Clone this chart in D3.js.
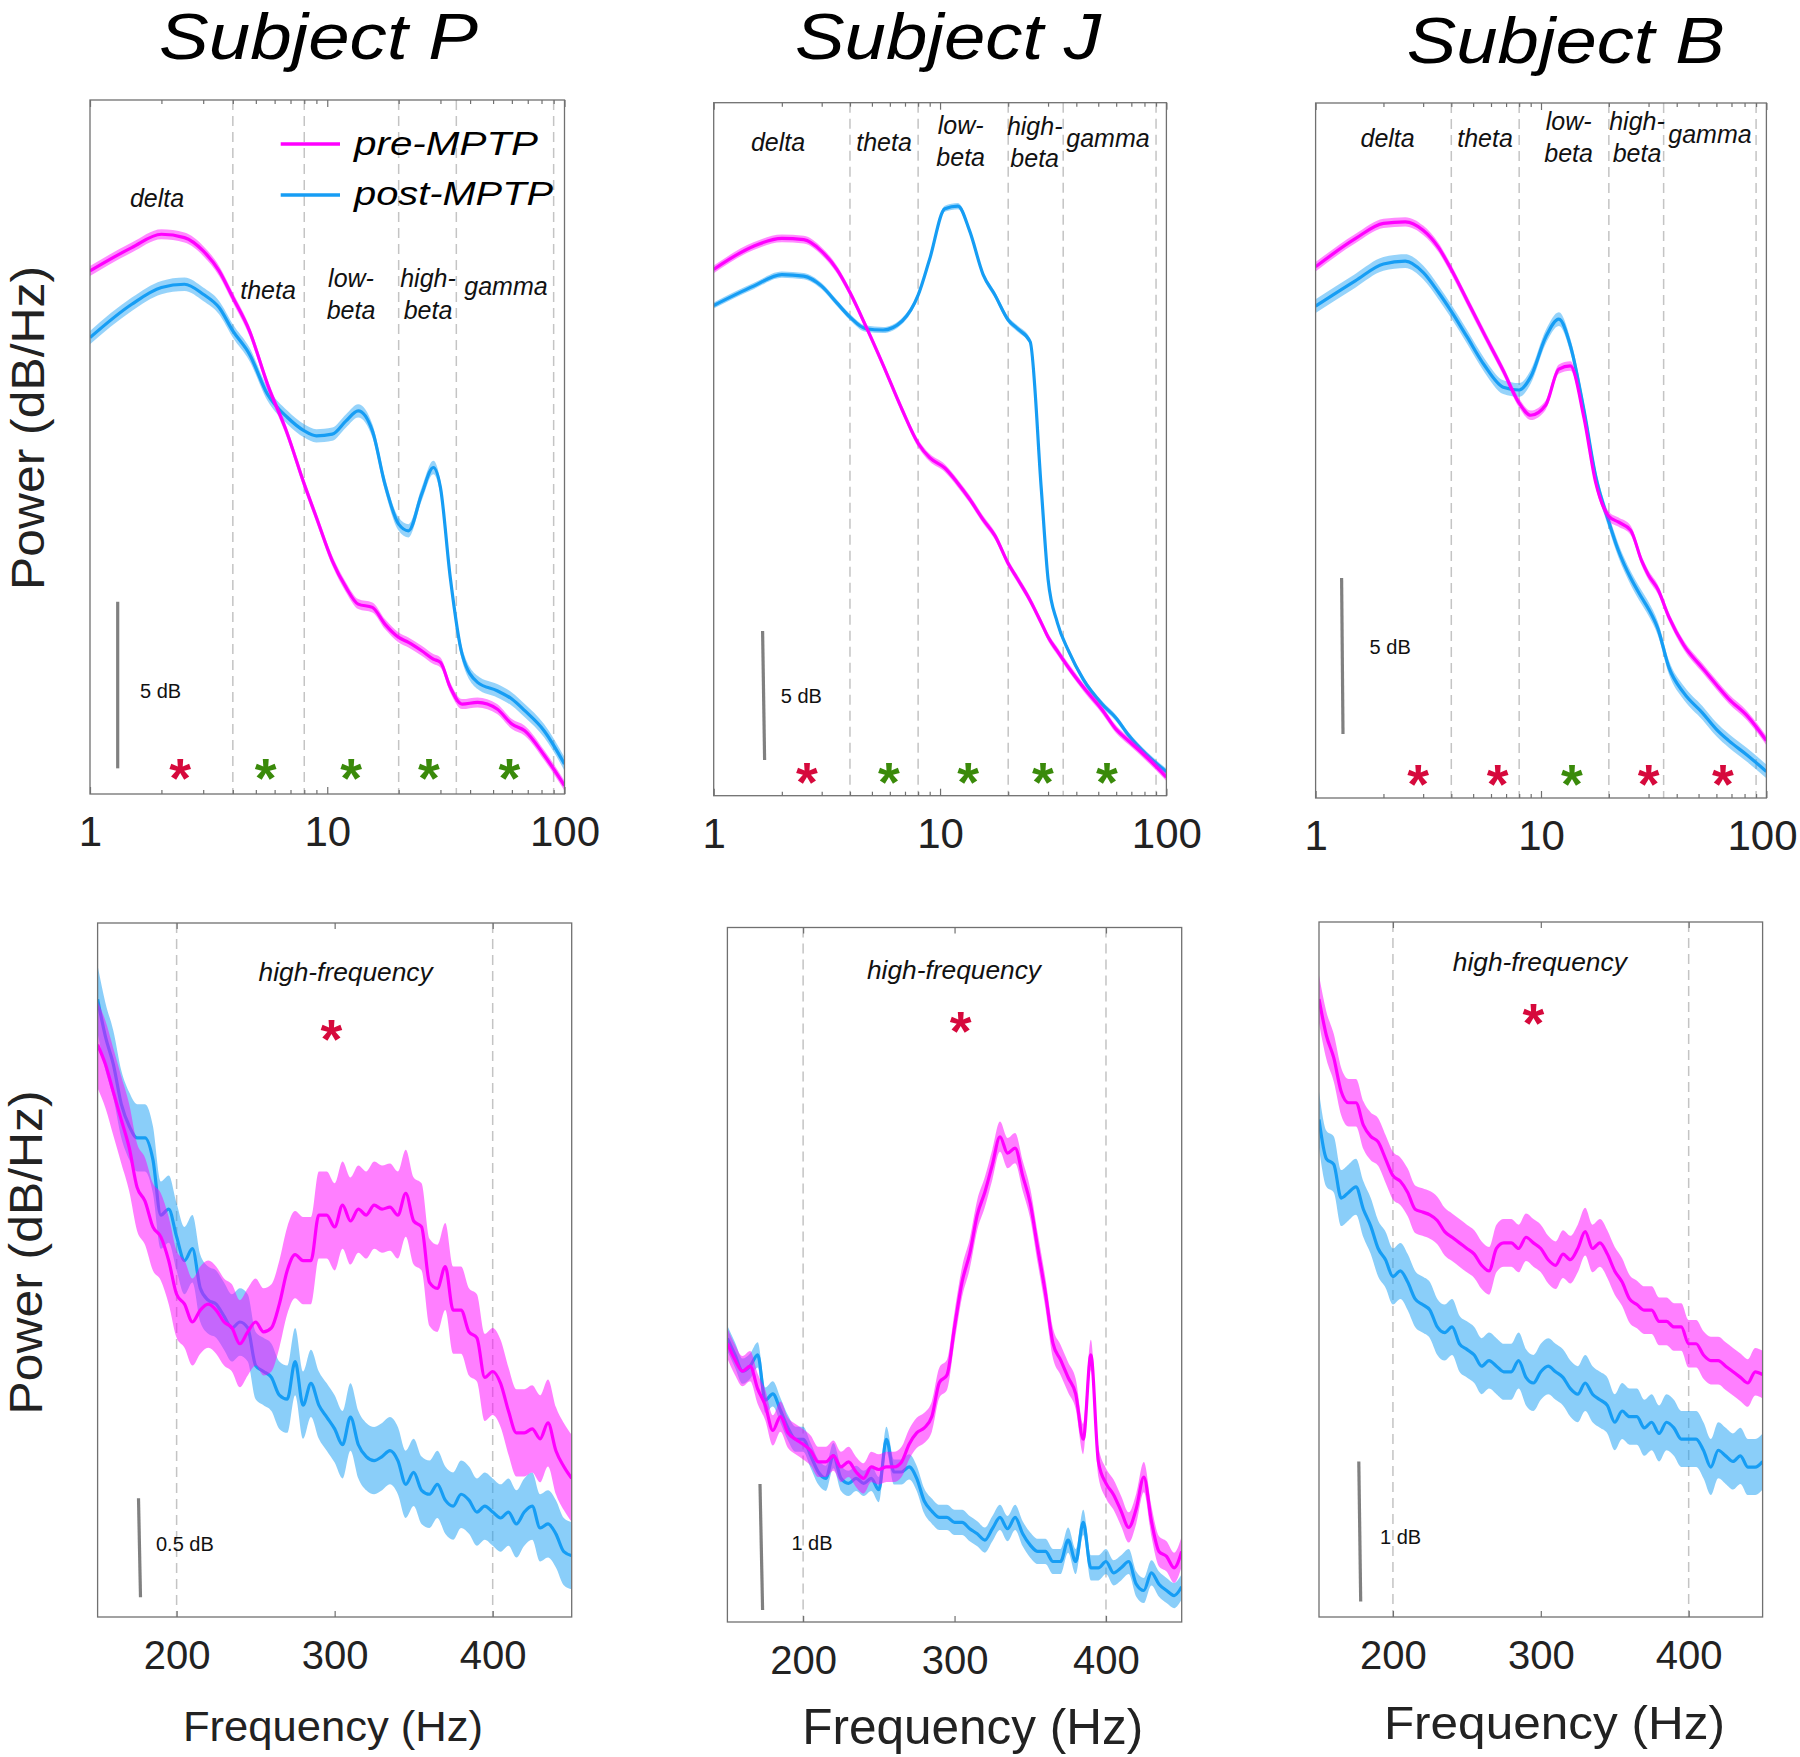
<!DOCTYPE html>
<html>
<head>
<meta charset="utf-8">
<script src="https://cdn.jsdelivr.net/npm/d3@7"></script>
<style>
  body { margin: 0; background: #fff; }
  svg { display: block; font-family: "Liberation Sans", Arial, sans-serif; }
</style>
</head>
<body>
<div id="chart"></div>
<script>
// ---- data (dB, relative to the bottom of each panel) ----
const subjects = ["Subject P", "Subject J", "Subject B"];

const lowFreqs = [1, 1.5, 2, 2.5, 3, 3.5, 4, 4.7, 5.6, 6.8, 8, 9, 10.5, 12, 13.5, 15.5, 17.5, 20, 22, 25, 28, 30, 33, 37, 43, 52, 60, 68, 82, 100];
const lowPreP  = [15.7, 16.4, 16.8, 16.7, 16.3, 15.7, 14.9, 13.9, 12.3, 10.8, 9.3, 8.3, 7.0, 6.2, 5.7, 5.6, 5.1, 4.7, 4.55, 4.3, 4.05, 3.95, 3.2, 2.7, 2.75, 2.55, 2.1, 1.9, 1.17, 0.25];
const lowPostP = [13.7, 14.7, 15.2, 15.3, 15.0, 14.6, 13.9, 13.2, 12.0, 11.3, 10.9, 10.75, 10.8, 11.2, 11.5, 10.9, 9.3, 8.1, 7.9, 9.0, 9.8, 9.2, 6.5, 4.2, 3.35, 3.1, 2.85, 2.5, 1.9, 0.9];
const lowPreJ  = [20.4, 21.3, 21.6, 21.55, 21.1, 20.4, 19.5, 18.2, 16.7, 14.96, 13.66, 13.1, 12.7, 12.1, 11.5, 10.7, 10.07, 9.0, 8.4, 7.57, 6.7, 6.15, 5.6, 4.96, 4.2, 3.33, 2.57, 2.13, 1.48, 0.72];
const lowPostJ = [19.0, 19.75, 20.2, 20.14, 19.75, 19.1, 18.55, 18.1, 18.05, 18.4, 19.4, 20.8, 22.75, 22.85, 21.9, 20.2, 19.4, 18.44, 18.1, 17.6, 11.9, 8.4, 6.7, 5.6, 4.5, 3.55, 3.0, 2.35, 1.58, 0.93];
const lowPreB  = [17.03, 17.93, 18.42, 18.47, 18.2, 17.66, 16.94, 15.95, 14.87, 13.7, 12.66, 12.27, 12.6, 13.75, 13.85, 12.2, 10.1, 9.03, 8.85, 8.58, 7.59, 7.14, 6.69, 5.79, 4.9, 4.17, 3.63, 3.18, 2.64, 1.84];
const lowPostB = [15.77, 16.58, 17.12, 17.21, 16.85, 16.22, 15.6, 14.78, 13.88, 13.17, 13.08, 13.5, 14.78, 15.35, 14.5, 12.45, 10.3, 8.85, 7.95, 7.05, 6.42, 6.06, 5.43, 4.17, 3.37, 2.73, 2.2, 1.84, 1.38, 0.85];

const highFreqs = d3.range(150, 451, 5);
const highPreP  = [2.89, 2.79, 2.65, 2.51, 2.37, 2.17, 2.10, 1.97, 1.92, 1.80, 1.63, 1.58, 1.49, 1.55, 1.58, 1.55, 1.49, 1.46, 1.38, 1.44, 1.49, 1.44, 1.46, 1.58, 1.75, 1.83, 1.80, 1.80, 2.03, 2.03, 1.97, 2.08, 2.00, 2.06, 2.03, 2.08, 2.06, 2.07, 2.03, 2.14, 2.00, 1.97, 1.69, 1.66, 1.77, 1.55, 1.55, 1.44, 1.41, 1.21, 1.24, 1.18, 1.04, 0.93, 0.93, 0.95, 0.90, 0.98, 0.84, 0.76, 0.70];
const highPostP = [3.12, 2.93, 2.79, 2.59, 2.48, 2.42, 2.42, 2.31, 2.03, 2.06, 1.92, 1.80, 1.86, 1.66, 1.60, 1.58, 1.52, 1.46, 1.49, 1.46, 1.27, 1.24, 1.21, 1.12, 1.10, 1.29, 1.07, 1.18, 1.07, 1.01, 0.95, 0.87, 1.01, 0.87, 0.81, 0.79, 0.81, 0.84, 0.79, 0.67, 0.73, 0.64, 0.62, 0.67, 0.59, 0.56, 0.62, 0.59, 0.53, 0.56, 0.53, 0.50, 0.53, 0.47, 0.53, 0.56, 0.45, 0.47, 0.42, 0.33, 0.31];
const highPreJ  = [2.21, 2.08, 1.99, 2.03, 1.85, 1.72, 1.52, 1.63, 1.50, 1.45, 1.41, 1.36, 1.27, 1.27, 1.32, 1.23, 1.27, 1.19, 1.14, 1.23, 1.21, 1.23, 1.23, 1.27, 1.41, 1.50, 1.54, 1.63, 1.90, 1.96, 2.34, 2.70, 2.92, 3.23, 3.41, 3.63, 3.85, 3.72, 3.76, 3.54, 3.32, 2.96, 2.61, 2.21, 2.08, 1.94, 1.81, 1.45, 2.12, 1.27, 1.10, 1.01, 0.88, 0.75, 0.90, 1.15, 0.80, 0.56, 0.52, 0.43, 0.56];
const highPostJ = [2.25, 2.12, 1.99, 2.03, 2.12, 1.76, 1.81, 1.68, 1.54, 1.45, 1.45, 1.32, 1.19, 1.14, 1.32, 1.14, 1.10, 1.14, 1.10, 1.14, 1.05, 1.45, 1.19, 1.19, 1.23, 1.14, 0.96, 0.88, 0.83, 0.83, 0.79, 0.79, 0.74, 0.70, 0.65, 0.74, 0.83, 0.74, 0.83, 0.70, 0.61, 0.56, 0.56, 0.48, 0.48, 0.65, 0.48, 0.79, 0.43, 0.43, 0.48, 0.39, 0.43, 0.48, 0.30, 0.25, 0.39, 0.30, 0.25, 0.21, 0.28];
const highPreB  = [4.41, 4.15, 3.99, 3.75, 3.67, 3.67, 3.51, 3.43, 3.39, 3.27, 3.15, 3.11, 3.03, 2.91, 2.89, 2.87, 2.83, 2.75, 2.71, 2.67, 2.63, 2.59, 2.51, 2.47, 2.63, 2.67, 2.67, 2.63, 2.71, 2.67, 2.63, 2.55, 2.51, 2.59, 2.55, 2.63, 2.75, 2.63, 2.67, 2.59, 2.47, 2.39, 2.27, 2.23, 2.19, 2.19, 2.11, 2.11, 2.07, 2.07, 1.95, 1.95, 1.87, 1.83, 1.83, 1.79, 1.75, 1.71, 1.67, 1.75, 1.73];
const highPostB = [3.55, 3.27, 3.23, 2.99, 3.03, 3.07, 2.91, 2.79, 2.63, 2.55, 2.43, 2.47, 2.39, 2.27, 2.23, 2.19, 2.07, 2.03, 2.07, 1.95, 1.91, 1.87, 1.79, 1.83, 1.79, 1.75, 1.75, 1.83, 1.71, 1.67, 1.75, 1.79, 1.75, 1.71, 1.63, 1.59, 1.67, 1.59, 1.55, 1.51, 1.39, 1.47, 1.43, 1.43, 1.35, 1.39, 1.31, 1.39, 1.35, 1.27, 1.27, 1.27, 1.19, 1.07, 1.19, 1.15, 1.11, 1.15, 1.07, 1.07, 1.11];

// shaded error half-widths (dB): [pre, post]
const lowSemP = [0.15, 0.2], lowSemJ = [0.15, 0.12], lowSemB = [0.15, 0.22];
const highSemP = [0.22, 0.17], highSemJ = [0.12, 0.1], highSemB = [0.17, 0.2];

const bandEdges = [4, 8, 20, 35, 90];
const bandNames = [["delta"], ["theta"], ["low-", "beta"], ["high-", "beta"], ["gamma"]];
const hfEdges = [200, 400];
const lowTicks = [1, 10, 100];
const lowMinorTicks = [2, 3, 4, 5, 6, 7, 8, 9, 20, 30, 40, 50, 60, 70, 80, 90];
const highTicks = [200, 300, 400];

// significant bands: frequency of the star and which condition is higher
const sigFreqP = [2.4, 5.5, 12.6, 26.8, 58.6],  sigHigherP = ["pre", "post", "post", "post", "post"];
const sigFreqJ = [2.58, 5.94, 13.3, 28.5, 54.6], sigHigherJ = ["pre", "post", "post", "post", "post"];
const sigFreqB = [2.85, 6.43, 13.7, 30, 64.1],   sigHigherB = ["pre", "pre", "post", "pre", "pre"];
const hfSigFreq = [298, 304, 295];

const seriesNames = ["pre-MPTP", "post-MPTP"];

// ---- style ----
const pink = "#ff00ff", blue = "#169df4";
const starColor = {pre: "#d6093c", post: "#3a8a0a"};

const svg = d3.select("#chart").append("svg").attr("width", 1800).attr("height", 1757);

const panels = [
  {log: true, left: 90, top: 100, w: 474.5, h: 694, span: 20.83, pre: lowPreP, post: lowPostP, sem: lowSemP,
   sig: sigFreqP, hi: sigHigherP, starY: 666,
   sb: {xT: 27.7, xB: 27.7, base: 0.77, len: 5, label: "5 dB", lx: 50, ly: 598},
   lab: [[67, 106.5], [178, 198.5], [261, 187], [338, 187], [416, 194.6]], legend: true},
  {log: true, left: 713.7, top: 102.7, w: 452.7, h: 693, span: 26.86, pre: lowPreJ, post: lowPostJ, sem: lowSemJ,
   sig: sigFreqJ, hi: sigHigherJ, starY: 667,
   sb: {xT: 48.9, xB: 50.9, base: 1.38, len: 5, label: "5 dB", lx: 67, ly: 600},
   lab: [[64.3, 48.8], [170.3, 48.8], [247, 31], [321, 32], [394.3, 44.3]]},
  {log: true, left: 1315.6, top: 103, w: 450.8, h: 695, span: 22.28, pre: lowPreB, post: lowPostB, sem: lowSemB,
   sig: sigFreqB, hi: sigHigherB, starY: 669,
   sb: {xT: 26, xB: 27.4, base: 2.05, len: 5, label: "5 dB", lx: 54, ly: 551},
   lab: [[72, 44], [169.4, 44], [253, 27], [321.4, 27], [394.4, 40]], lastTickEnd: true},
  {log: false, left: 97.6, top: 923, w: 474.1, h: 694, span: 3.505, pre: highPreP, post: highPostP, sem: highSemP,
   sig: [hfSigFreq[0]], hi: ["pre"], starY: 103.5, hfLab: [248, 57.7],
   sb: {xT: 40.9, xB: 42.9, base: 0.1, len: 0.5, label: "0.5 dB", lx: 58.4, ly: 628},
   xlab: {cx: 235.4, y: 818, size: 43, len: 300}},
  {log: false, left: 727.4, top: 927.5, w: 454.3, h: 694.5, span: 5.51, pre: highPreJ, post: highPostJ, sem: highSemJ,
   sig: [hfSigFreq[1]], hi: ["pre"], starY: 91.2, hfLab: [226.6, 51.5],
   sb: {xT: 32.6, xB: 35.2, base: 0.095, len: 1, label: "1 dB", lx: 64, ly: 622.5},
   xlab: {cx: 245.3, y: 816.5, size: 50, len: 341}},
  {log: false, left: 1319, top: 922, w: 443.6, h: 695, span: 4.96, pre: highPreB, post: highPostB, sem: highSemB,
   sig: [hfSigFreq[2]], hi: ["pre"], starY: 89, hfLab: [220.8, 48.6],
   sb: {xT: 39.8, xB: 41.7, base: 0.11, len: 1, label: "1 dB", lx: 61, ly: 622},
   xlab: {cx: 235.4, y: 816.5, size: 47, len: 341}}
];

let clipId = 0;
panels.forEach(p => {
  const g = svg.append("g").attr("transform", `translate(${p.left},${p.top})`);
  const freqs = p.log ? lowFreqs : highFreqs;
  const x = p.log
    ? d3.scaleLog().domain([1, 100]).range([0, p.w])
    : d3.scaleLinear().domain([150, 450]).range([0, p.w]);
  const y = d3.scaleLinear().domain([0, p.span]).range([p.h, 0]);

  const cid = "clip" + (clipId++);
  g.append("clipPath").attr("id", cid).append("rect").attr("width", p.w).attr("height", p.h);

  // band dividers
  g.append("g").selectAll("line")
    .data(p.log ? bandEdges : hfEdges)
    .join("line")
    .attr("x1", d => x(d)).attr("x2", d => x(d))
    .attr("y1", 0).attr("y2", p.h)
    .attr("stroke", "#c4c4c4").attr("stroke-width", 1.5)
    .attr("stroke-dasharray", "10,6");

  // curves: post first, pre on top
  const plot = g.append("g").attr("clip-path", `url(#${cid})`);
  [[p.post, p.sem[1], blue], [p.pre, p.sem[0], pink]].forEach(([vals, sem, col]) => {
    const pts = freqs.map((f, i) => ({f: f, v: vals[i]}));
    plot.append("path").datum(pts)
      .attr("fill", col).attr("fill-opacity", p.log ? 0.45 : 0.5)
      .attr("d", d3.area().curve(d3.curveMonotoneX)
        .x(d => x(d.f)).y0(d => y(d.v - sem)).y1(d => y(d.v + sem)));
    plot.append("path").datum(pts)
      .attr("fill", "none").attr("stroke", col).attr("stroke-width", 3.2)
      .attr("stroke-linejoin", "round")
      .attr("d", d3.line().curve(d3.curveMonotoneX).x(d => x(d.f)).y(d => y(d.v)));
  });

  // frame
  g.append("rect").attr("width", p.w).attr("height", p.h)
    .attr("fill", "none").attr("stroke", "#707070").attr("stroke-width", 1.3);

  // inner ticks, top and bottom
  const major = p.log ? lowTicks : highTicks;
  const tickSets = p.log ? [[lowMinorTicks, 4], [major, 7]] : [[major, 6]];
  tickSets.forEach(([vals, len]) => {
    const bt = g.append("g").attr("transform", `translate(0,${p.h})`)
      .call(d3.axisBottom(x).tickValues(vals).tickSize(-len).tickFormat(""));
    const tt = g.append("g")
      .call(d3.axisTop(x).tickValues(vals).tickSize(-len).tickFormat(""));
    [bt, tt].forEach(a => {
      a.select(".domain").remove();
      a.selectAll("line").attr("stroke", "#707070").attr("stroke-width", 1.2);
    });
  });

  // tick labels
  const ax = g.append("g").attr("transform", `translate(0,${p.h})`)
    .call(d3.axisBottom(x).tickValues(major).tickFormat(d3.format("d")).tickSize(0));
  ax.select(".domain").remove();
  ax.selectAll("text").attr("y", 52).attr("dy", null)
    .attr("font-size", p.log ? 42 : 40).attr("fill", "#222")
    .attr("font-family", "'Liberation Sans', Arial, sans-serif");
  if (p.lastTickEnd) {
    // keep the right-most label inside the page
    ax.selectAll(".tick").filter(d => d === 100).select("text")
      .attr("text-anchor", "end").attr("x", 1797 - p.left - p.w);
  }

  // significance stars
  g.append("g").selectAll("text")
    .data(p.sig.map((f, i) => ({f: f, hi: p.hi[i]})))
    .join("text")
    .attr("x", d => x(d.f)).attr("y", p.starY + 31)
    .attr("text-anchor", "middle").attr("font-size", 56).attr("font-weight", "bold")
    .attr("fill", d => starColor[d.hi]).text("*");

  // scale bar
  const sb = p.sb;
  g.append("line")
    .attr("x1", sb.xT).attr("x2", sb.xB)
    .attr("y1", y(sb.base + sb.len)).attr("y2", y(sb.base))
    .attr("stroke", "#808080").attr("stroke-width", 3.2);
  g.append("text").attr("x", sb.lx).attr("y", sb.ly)
    .attr("font-size", 20).attr("fill", "#111").text(sb.label);

  if (p.log) {
    // band names
    bandNames.forEach((lines, i) => {
      const t = g.append("text").attr("text-anchor", "middle")
        .attr("font-size", 25).attr("font-style", "italic").attr("fill", "#111");
      lines.forEach((s, k) => {
        t.append("tspan").attr("x", p.lab[i][0]).attr("y", p.lab[i][1] + k * 32).text(s);
      });
    });
  } else {
    g.append("text").attr("x", p.hfLab[0]).attr("y", p.hfLab[1])
      .attr("text-anchor", "middle").attr("font-size", 26).attr("font-style", "italic")
      .attr("textLength", 174).attr("lengthAdjust", "spacingAndGlyphs")
      .attr("fill", "#111").text("high-frequency");
    g.append("text").attr("x", p.xlab.cx).attr("y", p.xlab.y)
      .attr("text-anchor", "middle").attr("font-size", p.xlab.size)
      .attr("textLength", p.xlab.len).attr("lengthAdjust", "spacingAndGlyphs")
      .attr("fill", "#222").text("Frequency (Hz)");
  }

  if (p.legend) {
    const lg = svg.append("g");
    [[pink, 144, 155, 184], [blue, 195, 205, 199]].forEach(([col, ly, ty, tl], i) => {
      lg.append("line").attr("x1", 280.7).attr("x2", 340).attr("y1", ly).attr("y2", ly)
        .attr("stroke", col).attr("stroke-width", 3.5);
      lg.append("text").attr("x", 354).attr("y", ty)
        .attr("font-size", 33).attr("font-style", "italic")
        .attr("textLength", tl).attr("lengthAdjust", "spacingAndGlyphs")
        .attr("fill", "#000").text(seriesNames[i]);
    });
  }
});

// subject titles
[[159, 59, 319], [795, 59, 306], [1406.7, 63, 318]].forEach(([tx, ty, tl], i) => {
  svg.append("text").attr("x", tx).attr("y", ty)
    .attr("font-size", 65).attr("font-style", "italic")
    .attr("textLength", tl).attr("lengthAdjust", "spacingAndGlyphs")
    .attr("fill", "#000").text(subjects[i]);
});

// y axis titles
[[44, 428], [42, 1252.5]].forEach(([bx, cy]) => {
  svg.append("text")
    .attr("transform", `translate(${bx},${cy}) rotate(-90)`)
    .attr("text-anchor", "middle").attr("font-size", 46)
    .attr("textLength", 324).attr("lengthAdjust", "spacingAndGlyphs")
    .attr("fill", "#222").text("Power (dB/Hz)");
});
</script>
</body>
</html>
